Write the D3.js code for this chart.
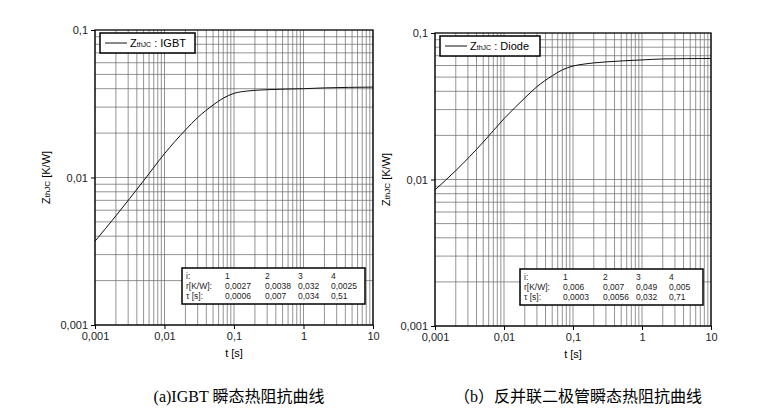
<!DOCTYPE html>
<html><head><meta charset="utf-8">
<script src="https://cdn.jsdelivr.net/npm/d3@7"></script>
<style>body{margin:0;background:#fff}</style></head>
<body><svg id="c" width="783" height="417"></svg>
<script>
var tIgbt = [0.001, 0.002, 0.005, 0.01, 0.02, 0.03, 0.05, 0.07, 0.1, 0.15, 0.2, 0.3, 1, 2, 10];
var zIgbt = [0.0037, 0.0055, 0.0095, 0.0145, 0.021, 0.0255, 0.031, 0.0345, 0.0372, 0.0385, 0.039, 0.0394, 0.0400, 0.0405, 0.0410];
var tDiode = [0.001, 0.002, 0.005, 0.01, 0.02, 0.03, 0.05, 0.07, 0.1, 0.15, 0.2, 0.3, 1, 2, 10];
var zDiode = [0.0085, 0.0115, 0.018, 0.026, 0.036, 0.043, 0.051, 0.056, 0.0595, 0.0615, 0.0625, 0.0635, 0.0655, 0.0665, 0.067];
var xTicks = [0.001, 0.01, 0.1, 1, 10];
var xLabels = ['0,001', '0,01', '0,1', '1', '10'];
var yTicks = [0.001, 0.01, 0.1];
var yLabels = ['0,001', '0,01', '0,1'];
var tableRows = [['i:', '1', '2', '3', '4']];
var igbtRows = [['r[K/W]:', '0,0027', '0,0038', '0,032', '0,0025'], ['τ [s]:', '0,0006', '0,007', '0,034', '0,51']];
var diodeRows = [['r[K/W]:', '0,006', '0,007', '0,049', '0,005'], ['τ [s]:', '0,0003', '0,0056', '0,032', '0,71']];

var svg = d3.select('#c');
var font = 'Liberation Sans, Arial, sans-serif';

function panel(box, ts, zs, name, rows, caption, legW) {
  var x = d3.scaleLog().domain([0.001, 10]).range([box.x0, box.x1]);
  var y = d3.scaleLog().domain([0.001, 0.1]).range([box.y1, box.y0]);
  var g = svg.append('g');
  // grid
  var minors = [];
  for (var d = 0.001; d < 10; d *= 10) for (var k = 1; k < 10; k++) minors.push(d * k);
  minors.push(10);
  g.selectAll('.vx').data(minors).enter().append('line')
    .attr('x1', d => x(d)).attr('x2', d => x(d)).attr('y1', box.y0).attr('y2', box.y1)
    .attr('stroke', '#666').attr('stroke-width', 0.7);
  var yminors = [];
  for (var e = 0.001; e < 0.1; e *= 10) for (var k2 = 1; k2 < 10; k2++) yminors.push(e * k2);
  g.selectAll('.hy').data(yminors).enter().append('line')
    .attr('y1', d => y(d)).attr('y2', d => y(d)).attr('x1', box.x0).attr('x2', box.x1)
    .attr('stroke', '#666').attr('stroke-width', 0.7);
  g.append('rect').attr('x', box.x0).attr('y', box.y0).attr('width', box.x1 - box.x0).attr('height', box.y1 - box.y0)
    .attr('fill', 'none').attr('stroke', '#000').attr('stroke-width', 1.3);
  // axes
  g.append('g').attr('transform', `translate(0,${box.y1})`)
    .call(d3.axisBottom(x).tickValues(xTicks).tickFormat((d, i) => xLabels[i]).tickSize(4))
    .call(a => a.select('.domain').remove())
    .selectAll('text').attr('font-size', 11).attr('font-family', font).attr('fill', '#222');
  g.append('g').attr('transform', `translate(${box.x0},0)`)
    .call(d3.axisLeft(y).tickValues(yTicks).tickFormat((d, i) => yLabels[i]).tickSize(4))
    .call(a => a.select('.domain').remove())
    .selectAll('text').attr('font-size', 11).attr('font-family', font).attr('fill', '#222');
  g.append('text').attr('x', (box.x0 + box.x1) / 2).attr('y', box.y1 + 32).attr('text-anchor', 'middle')
    .attr('font-size', 11).attr('font-family', font).text('t [s]');
  var yl = g.append('text').attr('transform', `translate(${box.x0 - 45},${(box.y0 + box.y1) / 2}) rotate(-90)`)
    .attr('text-anchor', 'middle').attr('font-size', 11).attr('font-family', font);
  yl.append('tspan').text('Z');
  yl.append('tspan').attr('font-size', 8).text('thJC');
  yl.append('tspan').text(' [K/W]');
  // curve
  var line = d3.line().x(d => x(d[0])).y(d => y(d[1])).curve(d3.curveMonotoneX);
  g.append('path').datum(ts.map((t, i) => [t, zs[i]])).attr('d', line)
    .attr('fill', 'none').attr('stroke', '#111').attr('stroke-width', 1);
  // legend
  g.append('rect').attr('x', box.x0 + 5).attr('y', box.y0 + 3).attr('width', legW).attr('height', 20)
    .attr('fill', '#fff').attr('stroke', '#000').attr('stroke-width', 1.5);
  g.append('line').attr('x1', box.x0 + 10).attr('x2', box.x0 + 32).attr('y1', box.y0 + 13).attr('y2', box.y0 + 13).attr('stroke', '#111');
  var lt = g.append('text').attr('x', box.x0 + 35).attr('y', box.y0 + 17).attr('font-size', 11).attr('font-family', font);
  lt.append('tspan').text('Z');
  lt.append('tspan').attr('font-size', 7).text('thJC');
  lt.append('tspan').text(' : ' + name);
  // table
  var tx = box.x1 - 191, ty = box.y1 - 57;
  g.append('rect').attr('x', tx).attr('y', ty).attr('width', 183).attr('height', 36)
    .attr('fill', '#fff').attr('stroke', '#000').attr('stroke-width', 1.5);
  var cols = [4, 43, 83, 116, 149];
  tableRows.concat(rows).forEach(function (r, ri) {
    r.forEach(function (c, ci) {
      g.append('text').attr('x', tx + cols[ci]).attr('y', ty + 11 + ri * 10)
        .attr('font-size', 8.5).attr('font-family', font).attr('fill', '#222').text(c);
    });
  });
  svg.append('text').attr('x', (box.x0 + box.x1) / 2 + 5).attr('y', 402).attr('text-anchor', 'middle')
    .attr('font-size', 16).attr('font-family', 'Liberation Serif, Noto Sans CJK SC, serif').text(caption);
}

panel({x0: 95, x1: 373, y0: 30, y1: 325}, tIgbt, zIgbt, 'IGBT', igbtRows, '(a)IGBT 瞬态热阻抗曲线', 95);
panel({x0: 435, x1: 711, y0: 33, y1: 326}, tDiode, zDiode, 'Diode', diodeRows, '（b）反并联二极管瞬态热阻抗曲线', 100);
</script></body></html>
